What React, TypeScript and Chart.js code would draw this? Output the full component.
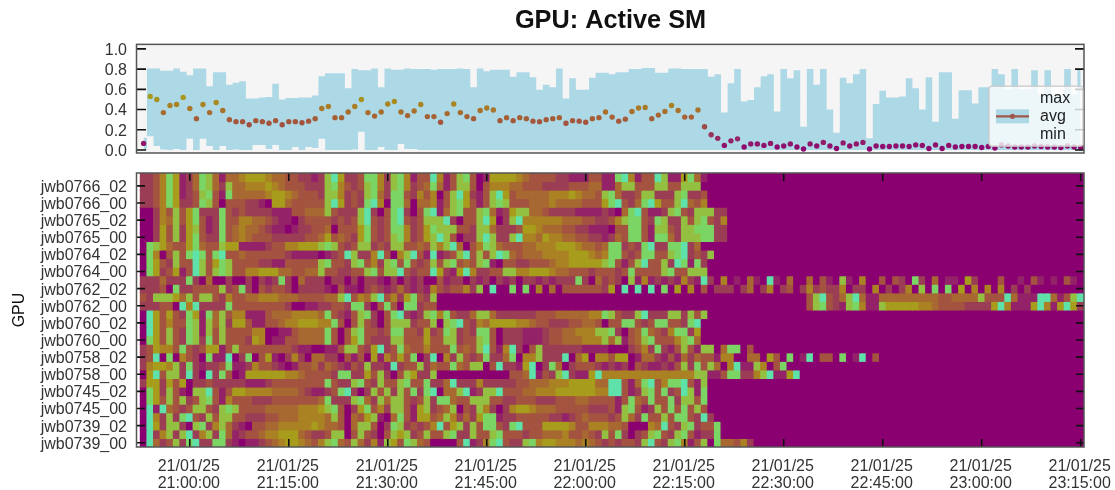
import React, { useEffect, useRef } from "react";
import { Chart, registerables } from "chart.js";

Chart.register(...registerables);

const FONT = '"Liberation Sans", Arial, sans-serif';
const TITLE = "GPU: Active SM";
const Y_LABEL = "GPU";

// minutes relative to 21:00:00
const X_MIN = -8;
const X_MAX = 135.5;
const FIRST_MINUTE = -7;
const xTickMinutes = [0, 15, 30, 45, 60, 75, 90, 105, 120, 135];
const xTickTimes = ["21:00:00", "21:15:00", "21:30:00", "21:45:00", "22:00:00", "22:15:00", "22:30:00", "22:45:00", "23:00:00", "23:15:00"];
const xTickDate = "21/01/25";
const topTicks = [0, 0.2, 0.4, 0.6, 0.8, 1.0];

const gpuLabels = [
  "jwb0766_02", "jwb0766_00", "jwb0765_02", "jwb0765_00", "jwb0764_02", "jwb0764_00", "jwb0762_02", "jwb0762_00",
  "jwb0760_02", "jwb0760_00", "jwb0758_02", "jwb0758_00", "jwb0745_02", "jwb0745_00", "jwb0739_02", "jwb0739_00",
];
const legendLabels = ["max", "avg", "min"];

const avgValues = [
  0.065, 0.53, 0.5, 0.37, 0.44, 0.45, 0.52, 0.41, 0.31, 0.45, 0.37, 0.47, 0.39, 0.3, 0.28, 0.28, 0.25, 0.29, 0.28, 0.265,
  0.29, 0.25, 0.28, 0.28, 0.27, 0.285, 0.31, 0.41, 0.43, 0.32, 0.32, 0.375, 0.43, 0.5, 0.37, 0.335, 0.375, 0.455, 0.48, 0.375,
  0.34, 0.385, 0.45, 0.33, 0.33, 0.275, 0.36, 0.455, 0.37, 0.33, 0.31, 0.39, 0.415, 0.395, 0.29, 0.32, 0.29, 0.32, 0.31, 0.285,
  0.28, 0.3, 0.31, 0.32, 0.265, 0.29, 0.285, 0.275, 0.31, 0.32, 0.375, 0.325, 0.285, 0.305, 0.38, 0.415, 0.42, 0.31, 0.345, 0.38,
  0.44, 0.39, 0.325, 0.325, 0.395, 0.23, 0.15, 0.115, 0.045, 0.09, 0.11, 0.03, 0.06, 0.06, 0.045, 0.065, 0.03, 0.04, 0.06, 0.03,
  0.01, 0.06, 0.04, 0.075, 0.04, 0.015, 0.07, 0.04, 0.06, 0.075, 0.01, 0.04, 0.035, 0.035, 0.04, 0.04, 0.035, 0.05, 0.045, 0.015,
  0.05, 0.015, 0.045, 0.03, 0.035, 0.035, 0.035, 0.025, 0.035, 0.02, 0.05, 0.04, 0.03, 0.03, 0.03, 0.04, 0.035, 0.03, 0.03, 0.025,
  0.04, 0.03, 0.025,
];

const maxValues = [
  0.12, 0.805, 0.805, 0.785, 0.785, 0.805, 0.775, 0.74, 0.805, 0.805, 0.63, 0.77, 0.77, 0.645, 0.665, 0.68, 0.51, 0.51, 0.52, 0.525,
  0.655, 0.5, 0.515, 0.515, 0.52, 0.52, 0.54, 0.73, 0.76, 0.76, 0.76, 0.61, 0.8, 0.79, 0.79, 0.805, 0.62, 0.805, 0.795, 0.795,
  0.805, 0.8, 0.8, 0.8, 0.795, 0.8, 0.8, 0.8, 0.805, 0.8, 0.62, 0.805, 0.78, 0.795, 0.795, 0.795, 0.725, 0.77, 0.77, 0.72,
  0.595, 0.645, 0.62, 0.805, 0.51, 0.71, 0.595, 0.595, 0.715, 0.765, 0.765, 0.75, 0.77, 0.77, 0.8, 0.8, 0.81, 0.81, 0.765, 0.765,
  0.805, 0.805, 0.8, 0.8, 0.8, 0.8, 0.725, 0.75, 0.37, 0.66, 0.8, 0.48, 0.495, 0.62, 0.73, 0.75, 0.38, 0.8, 0.71, 0.79,
  0.23, 0.8, 0.645, 0.8, 0.4, 0.17, 0.715, 0.66, 0.75, 0.8, 0.115, 0.455, 0.585, 0.52, 0.52, 0.53, 0.71, 0.61, 0.4, 0.72,
  0.28, 0.77, 0.77, 0.31, 0.59, 0.59, 0.46, 0.62, 0.62, 0.8, 0.75, 0.6, 0.8, 0.6, 0.6, 0.79, 0.55, 0.79, 0.55, 0.55,
  0.8, 0.55, 0.8,
];

const minValues = [
  0, 0.135, 0.04, 0.005, 0, 0.01, 0, 0.11, 0, 0.11, 0.04, 0, 0.04, 0, 0.005, 0, 0, 0.05, 0.05, 0.01,
  0.05, 0, 0, 0.03, 0, 0.03, 0.02, 0.11, 0, 0, 0, 0, 0.005, 0.18, 0, 0, 0.03, 0, 0, 0.06,
  0.01, 0.01, 0, 0, 0, 0, 0, 0, 0, 0, 0, 0, 0, 0, 0, 0, 0, 0, 0, 0,
  0, 0, 0, 0, 0, 0, 0, 0, 0, 0, 0, 0, 0, 0, 0, 0, 0, 0, 0, 0,
  0, 0, 0, 0, 0, 0, 0, 0, 0, 0, 0, 0, 0, 0, 0, 0, 0, 0, 0, 0,
  0, 0, 0, 0, 0, 0, 0, 0, 0, 0, 0, 0, 0, 0, 0, 0, 0, 0, 0, 0,
  0, 0, 0, 0, 0, 0, 0, 0, 0, 0, 0, 0, 0, 0, 0, 0, 0, 0, 0, 0,
  0, 0, 0,
];

// activity per GPU per minute, top row first, level 0-9; columns left out are level 0
const activityRows = [
  "2235861248 7414456665 4433221279 6223885278 5133951378 3016666543 3332211133 1189513397 1168410000",
  "2235861248 7427445556 5433322278 5323785278 5234841377 3035554433 3222233344 1147733377 3377700000",
  "2235861237 8318444445 6654333277 5232784288 3253503796 2137963444 4455565443 7842237722 2782230000",
  "2235862238 7303332210 6643333379 6232895088 4044513786 3137873334 4454444333 6893248963 3794350000",
  "0025373682 2283232222 1113344473 2227920389 2038914783 3784126774 4322221111 2104893112 7832777220",
  "0025473683 1283355443 2110233332 3237932389 3237779203 3796027955 5555444332 2357883287 2273783250",
  "0026372673 1283454432 1101223340 3336832388 5236877733 2774222366 5444332211 1033883177 3277888220",
  "0026372683 2283454333 2222233463 4326832378 5236797302 2797227955 4655443322 1243883188 4277788220",
  "0876433684 3376611112 3355666787 3237723277 3343757940 3587433344 5556665443 4882328922 8892400000",
  "0850373898 3893343333 3321111012 3972259305 7931912379 3737984344 4555566654 5883238833 7892327000",
  "0863273397 3687333322 1133333783 3278352783 8323737834 3781033223 3345566666 7831379337 2981820000",
  "0862361397 3787335566 6443344733 2233783779 3233962169 5223377556 6654433323 3323833337 8337770000",
  "2224222820 4002002021 2820422202 2020221020 2120031220 2120212022 1212228204 2320715121 2152192050 104109104 0040310710 5003032082 0401106200 0300103101 0310",
  "2223082233 3372382032 3320222210 3110232124 2121532335 2709008080 5040333333 2609090908 0605030222 024025023 0252322502 2050202507 0808060505 0502020000 0000",
  "3277764737 7325334455 5444333344 7935479352 6832700000 0000000000 0000000000 0000000000 0000000000 0000000000 037932479 4114444444 4433444473 3394111994 1379",
  "2223309592 2228333333 3320011223 3288203830 8823300000 0000000000 0000000000 0000000000 0000000000 0000000000 037832178 5117666665 5433332222 6951116951 6962",
  "0963632861 8473551113 4445555483 2137820389 2127858322 4774222222 3334444455 8732279222 7727370000",
  "0963533871 7472663113 3455666558 3037320377 7233707893 2546666554 3322233443 0338832388 3328900000",
  "0963732871 7373333550 0113444483 0378332388 3326238723 2883022211 1233445557 7820348432 5882600000",
  "0863732872 8373332650 1133444483 0368322277 3336337723 3783022211 1233444555 7471347833 3578400000",
  "2365538323 6613733333 3332110011 3773269238 4335333834 3793159203 7222222111 1000235282 1373177048 8030000000",
  "2390805320 8119028036 1025204422 0313061536 3802905273 2382248055 7222904605 5366014421 314243315 5004406308 0190330801 903",
  "2566572821 2238112533 2101334243 2132722192 3372433843 7703922169 0284023332 1212032112 137283740 5911750380",
  "0693772920 9283016666 6655433332 8822637203 7622700000 0000003349 1327921169 5555555555 555577113 8822579116 9",
  "2662636022 3222221112 3333333383 2278327337 8338224922 2522222334 4455566664 4993148935 8893170000",
  "0862731077 9313665555 4444321123 8920273727 3828904479 1277933344 5556666665 5993127838 2397180000",
  "0863737237 8315333222 3333333482 2278427477 3237288433 7773322333 2223334433 3313843833 8277380000",
  "0919432377 3278733334 4444555678 3026835277 3167234703 2752025665 4443333322 2317831273 8383730000",
  "0952728932 7377332223 3444555547 3043671048 3166347524 2688122333 3322123433 3237428337 3883292000",
  "0962772078 2574210334 4555556544 3047730287 2323593672 7388328933 3666653355 5443000549 3278233800",
  "0925727925 7284123345 5666432237 7037320376 7237337822 7337833323 3444533432 7382023783 2783122800",
  "0942372892 2882101123 4566543578 4374251763 8743000039 1258932278 5665554543 2323327932 7851370844 352",
];

const COLUMNS = 143;
const FULL_SCALE = 0.8;
const colorStops: [number, number, number, number][] = [
  [0, 139, 0, 112], [0.09, 147, 34, 104], [0.18, 155, 62, 84], [0.27, 163, 84, 62], [0.36, 168, 105, 48],
  [0.45, 170, 132, 34], [0.54, 167, 158, 28], [0.63, 146, 195, 68], [0.72, 120, 215, 105], [0.8, 95, 225, 170],
];
function colorFor(v: number) {
  for (let i = 1; i < colorStops.length; i++) {
    if (v <= colorStops[i][0]) {
      const a = colorStops[i - 1];
      const b = colorStops[i];
      const t = (v - a[0]) / (b[0] - a[0]);
      return `rgb(${a[1] + (b[1] - a[1]) * t},${a[2] + (b[2] - a[2]) * t},${a[3] + (b[3] - a[3]) * t})`;
    }
  }
  return "rgb(95,225,170)";
}

const noMargins = (s: any) => {
  s.paddingLeft = 0;
  s.paddingRight = 0;
  s.paddingTop = 0;
  s.paddingBottom = 0;
};

const frameAndTicks = (heat: boolean, len: number) => ({
  id: "frameAndTicks",
  beforeDatasetsDraw(chart: any) {
    const { ctx, chartArea: a, scales } = chart;
    ctx.save();
    if (!heat) {
      ctx.fillStyle = "#f5f5f5";
      ctx.fillRect(a.left, a.top, a.right - a.left, a.bottom - a.top);
    } else {
      const x0 = scales.x.getPixelForValue(FIRST_MINUTE - 0.5);
      ctx.fillStyle = "rgb(139,0,112)";
      ctx.fillRect(x0, a.top, a.right - x0, a.bottom - a.top);
    }
    ctx.restore();
  },
  afterDraw(chart: any) {
    const { ctx, chartArea: a, scales } = chart;
    ctx.save();
    ctx.strokeStyle = "#111";
    ctx.lineWidth = 1.6;
    ctx.beginPath();
    scales.y.ticks.forEach((t: any) => {
      const y = scales.y.getPixelForValue(t.value);
      ctx.moveTo(a.left, y);
      ctx.lineTo(a.left + len, y);
      ctx.moveTo(a.right, y);
      ctx.lineTo(a.right - len, y);
    });
    if (heat) {
      scales.x.ticks.forEach((t: any) => {
        const x = scales.x.getPixelForValue(t.value);
        ctx.moveTo(x, a.top);
        ctx.lineTo(x, a.top + len);
        ctx.moveTo(x, a.bottom);
        ctx.lineTo(x, a.bottom - len);
      });
    }
    ctx.stroke();
    ctx.strokeStyle = "#555";
    ctx.lineWidth = 1.5;
    ctx.strokeRect(a.left - 0.5, a.top, a.right - a.left + 0.5, a.bottom - a.top);
    ctx.restore();
  },
});

const legendPlugin = {
  id: "cornerLegend",
  afterDraw(chart: any) {
    const { ctx, chartArea: a } = chart;
    const box = { x: a.right - 95, y: a.top + 42, w: 94, h: 60 };
    ctx.save();
    ctx.fillStyle = "rgba(255,255,255,0.78)";
    ctx.strokeStyle = "rgba(200,200,200,0.8)";
    ctx.lineWidth = 1.5;
    ctx.beginPath();
    ctx.roundRect(box.x, box.y, box.w, box.h, 3);
    ctx.fill();
    ctx.stroke();
    const midY = box.y + 30;
    ctx.fillStyle = "#add8e6";
    ctx.fillRect(box.x + 7, midY - 7, 33, 14);
    ctx.strokeStyle = "#a0574a";
    ctx.lineWidth = 2.2;
    ctx.beginPath();
    ctx.moveTo(box.x + 7, midY);
    ctx.lineTo(box.x + 40, midY);
    ctx.stroke();
    ctx.fillStyle = "#a0574a";
    ctx.beginPath();
    ctx.arc(box.x + 23.5, midY, 2.6, 0, Math.PI * 2);
    ctx.fill();
    ctx.fillStyle = "#222";
    ctx.font = `16px ${FONT}`;
    ctx.textBaseline = "middle";
    legendLabels.forEach((t, i) => ctx.fillText(t, box.x + 51, box.y + 12 + i * 18));
    ctx.restore();
  },
};

export default function App() {
  const topRef = useRef<HTMLCanvasElement>(null);
  const heatRef = useRef<HTMLCanvasElement>(null);

  useEffect(() => {
    const minutes = avgValues.map((_, k) => k + FIRST_MINUTE);
    const topChart = new Chart(topRef.current as any, {
      type: "line",
      data: {
        datasets: [
          {
            label: "avg",
            data: minutes.map((m, k) => ({ x: m, y: avgValues[k] })),
            showLine: false,
            pointRadius: 2.7,
            pointBorderWidth: 0,
            pointBackgroundColor: avgValues.map(colorFor),
          },
          {
            label: "max",
            data: minutes.map((m, k) => ({ x: m, y: maxValues[k] })),
            stepped: "middle",
            borderWidth: 0,
            pointRadius: 0,
            backgroundColor: "#add8e6",
            fill: "+1",
          },
          {
            label: "min",
            data: minutes.map((m, k) => ({ x: m, y: minValues[k] })),
            stepped: "middle",
            borderWidth: 0,
            pointRadius: 0,
          },
        ],
      } as any,
      options: {
        animation: false,
        responsive: false,
        layout: { padding: { right: 31, bottom: 12, left: 0, top: 0 } },
        plugins: {
          legend: { display: false },
          tooltip: { enabled: false },
          title: {
            display: true,
            text: TITLE,
            fullSize: false,
            color: "#111",
            font: { family: FONT, size: 25.3, weight: "bold" },
            padding: { top: 6, bottom: 8 },
          },
        },
        scales: {
          x: {
            type: "linear",
            min: X_MIN,
            max: X_MAX,
            grid: { display: false, drawTicks: false },
            border: { display: false },
            ticks: { display: false },
            afterFit: (s: any) => { s.height = 0; noMargins(s); },
          },
          y: {
            min: -0.03,
            max: 1.045,
            afterBuildTicks: (s: any) => { s.ticks = topTicks.map((value) => ({ value })); },
            afterFit: (s: any) => { s.width = 137; noMargins(s); },
            grid: { display: false, drawTicks: false },
            border: { display: false },
            ticks: { autoSkip: false, padding: 10, labelOffset: 1.5, color: "#333", font: { family: FONT, size: 16 }, callback: (v: any) => Number(v).toFixed(1) },
          },
        },
      } as any,
      plugins: [frameAndTicks(false, 9), legendPlugin],
    });

    const cells = activityRows.map((r) => r.replace(/ /g, ""));
    const heatDatasets = cells.map((row, r) => {
      const level = Array.from({ length: COLUMNS }, (_, c) => Number(row[c] ?? 0));
      return {
        label: `row${r}`,
        data: level.map((_, c) => ({ x: FIRST_MINUTE + c, y: [30.5 - r, 31.5 - r] })),
        backgroundColor: level.map((l) => colorFor((l / 9) * FULL_SCALE)),
        borderWidth: 0,
        inflateAmount: 0.5,
        grouped: false,
        barPercentage: 1,
        categoryPercentage: 1,
      };
    });

    const heatChart = new Chart(heatRef.current as any, {
      type: "bar",
      data: { datasets: heatDatasets } as any,
      options: {
        animation: false,
        responsive: false,
        layout: { padding: { right: 31, top: 8, left: 0, bottom: 0 } },
        plugins: { legend: { display: false }, tooltip: { enabled: false } },
        scales: {
          x: {
            type: "linear",
            min: X_MIN,
            max: X_MAX,
            offset: false,
            afterBuildTicks: (s: any) => { s.ticks = xTickMinutes.map((value) => ({ value })); },
            afterFit: (s: any) => { s.height = 43; noMargins(s); },
            grid: { display: false, drawTicks: false },
            border: { display: false },
            ticks: {
              autoSkip: false,
              maxRotation: 0,
              padding: 11,
              labelOffset: -1,
              color: "#333",
              font: { family: FONT, size: 16, lineHeight: 1.05 },
              callback: (v: any) => [xTickDate, xTickTimes[xTickMinutes.indexOf(Number(v))]],
            },
          },
          y: {
            min: -0.5,
            max: 31.5,
            afterBuildTicks: (s: any) => { s.ticks = gpuLabels.map((_, i) => ({ value: 30 - 2 * i })); },
            afterFit: (s: any) => { s.width = 137; noMargins(s); },
            grid: { display: false, drawTicks: false },
            border: { display: false },
            title: { display: true, text: Y_LABEL, color: "#111", font: { family: FONT, size: 16 }, padding: { top: 10, bottom: 0 } },
            ticks: {
              autoSkip: false,
              padding: 10,
              labelOffset: 1.5,
              color: "#333",
              font: { family: FONT, size: 16 },
              callback: (v: any) => gpuLabels[(30 - Number(v)) / 2],
            },
          },
        },
      } as any,
      plugins: [frameAndTicks(true, 8)],
    });

    return () => {
      topChart.destroy();
      heatChart.destroy();
    };
  }, []);

  return (
    <div style={{ position: "absolute", left: 0, top: 0, width: 1115, height: 490, background: "#fff", filter: "blur(0.6px)" }}>
      <canvas ref={topRef} width={1115} height={165} style={{ position: "absolute", left: 0, top: 0 }} />
      <canvas ref={heatRef} width={1115} height={325} style={{ position: "absolute", left: 0, top: 165 }} />
    </div>
  );
}
